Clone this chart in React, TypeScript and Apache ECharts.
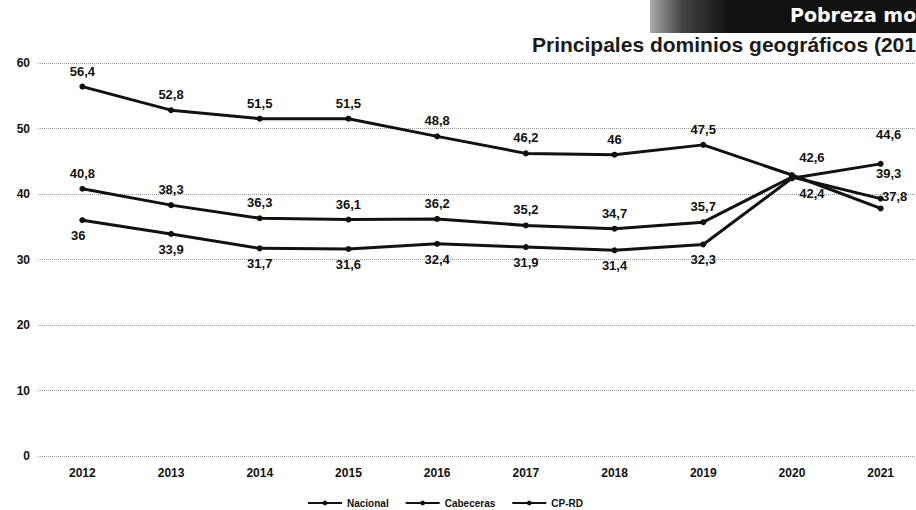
import React, { useEffect, useRef } from "react";
import * as echarts from "echarts";

const years = ["2012", "2013", "2014", "2015", "2016", "2017", "2018", "2019", "2020", "2021"];
const nacional = [40.8, 38.3, 36.3, 36.1, 36.2, 35.2, 34.7, 35.7, 42.6, 39.3];
const cabeceras = [36, 33.9, 31.7, 31.6, 32.4, 31.9, 31.4, 32.3, 42.4, 44.6];
const cprd = [56.4, 52.8, 51.5, 51.5, 48.8, 46.2, 46, 47.5, 42.9, 37.8];
const seriesNames = ["Nacional", "Cabeceras", "CP-RD"];
const titleText = "Pobreza monetaria";
const subtitleText = "Principales dominios geográficos (2012-2021)";

const FONT = "'Liberation Sans', Arial, sans-serif";

export default function App() {
  const ref = useRef<HTMLDivElement>(null);
  useEffect(() => {
    document.body.style.margin = "0";
    document.body.style.overflow = "hidden";
    const chart = echarts.init(ref.current!, null, { renderer: "svg" });
    const fmt = (p: any) => String(p.value).replace(".", ",");
    const baseLabel = {
      show: true,
      fontFamily: FONT,
      fontWeight: "bold",
      fontSize: 13,
      color: "#111",
      formatter: fmt,
      distance: 6,
    };
    const withOverrides = (vals: number[], overrides: Record<number, any>) =>
      vals.map((v, i) => (overrides[i] ? { value: v, label: overrides[i] } : v));

    const mkSeries = (name: string, data: any[], pos: string) => ({
      name,
      type: "line",
      data,
      symbol: "circle",
      symbolSize: 6,
      lineStyle: { color: "#111", width: 3 },
      itemStyle: { color: "#111" },
      label: { ...baseLabel, position: pos },
    });

    chart.setOption({
      animation: false,
      backgroundColor: "#fff",
      grid: { left: 38, right: 35, top: 63, bottom: 54 },
      legend: {
        left: 307,
        top: 498,
        padding: 0,
        itemWidth: 34,
        itemHeight: 6,
        itemGap: 16,
        textStyle: { fontFamily: FONT, fontSize: 10, color: "#111", fontWeight: "bold" },
        data: seriesNames,
      },
      xAxis: {
        type: "category",
        data: years,
        boundaryGap: true,
        axisLine: { show: false },
        axisTick: { show: false },
        axisLabel: { fontFamily: FONT, fontWeight: "bold", fontSize: 12, color: "#111", margin: 11 },
      },
      yAxis: {
        type: "value",
        min: 0,
        max: 60,
        interval: 10,
        axisLine: { show: false },
        axisTick: { show: false },
        axisLabel: { fontFamily: FONT, fontWeight: "bold", fontSize: 12, color: "#111", margin: 8 },
        splitLine: { lineStyle: { color: "#999", type: "dotted", width: 1 } },
      },
      series: [
        mkSeries(
          seriesNames[0],
          withOverrides(nacional, {
            8: { position: "top", offset: [20, -4] },
            9: { position: "top", offset: [8, -10] },
          }),
          "top"
        ),
        mkSeries(
          seriesNames[1],
          withOverrides(cabeceras, {
            0: { position: "bottom", offset: [-4, 0] },
            8: { position: "bottom", offset: [20, 0] },
            9: { position: "top", offset: [8, -14] },
          }),
          "bottom"
        ),
        mkSeries(
          seriesNames[2],
          withOverrides(cprd, {
            8: { show: false },
            9: { position: "top", offset: [14, 4] },
          }),
          "top"
        ),
      ],
      graphic: [
        {
          type: "rect",
          shape: { x: 650, y: 0, width: 320, height: 33 },
          style: {
            fill: new echarts.graphic.LinearGradient(0, 0, 1, 0, [
              { offset: 0, color: "#aaa" },
              { offset: 0.1, color: "#444" },
              { offset: 0.25, color: "#111" },
              { offset: 1, color: "#111" },
            ]),
          },
        },
        {
          type: "text",
          x: 790,
          y: 15,
          style: {
            text: titleText,
            fill: "#fff",
            font: "bold 19px 'DejaVu Sans', sans-serif",
            verticalAlign: "middle",
          },
        },
        {
          type: "text",
          x: 532,
          y: 44,
          style: {
            text: subtitleText,
            fill: "#1a1a1a",
            font: "bold 21px 'Liberation Sans', Arial, sans-serif",
            verticalAlign: "middle",
          },
        },
      ],
    });
    return () => chart.dispose();
  }, []);
  return <div ref={ref} style={{ position: "fixed", left: 0, top: 0, width: 960, height: 510 }} />;
}
